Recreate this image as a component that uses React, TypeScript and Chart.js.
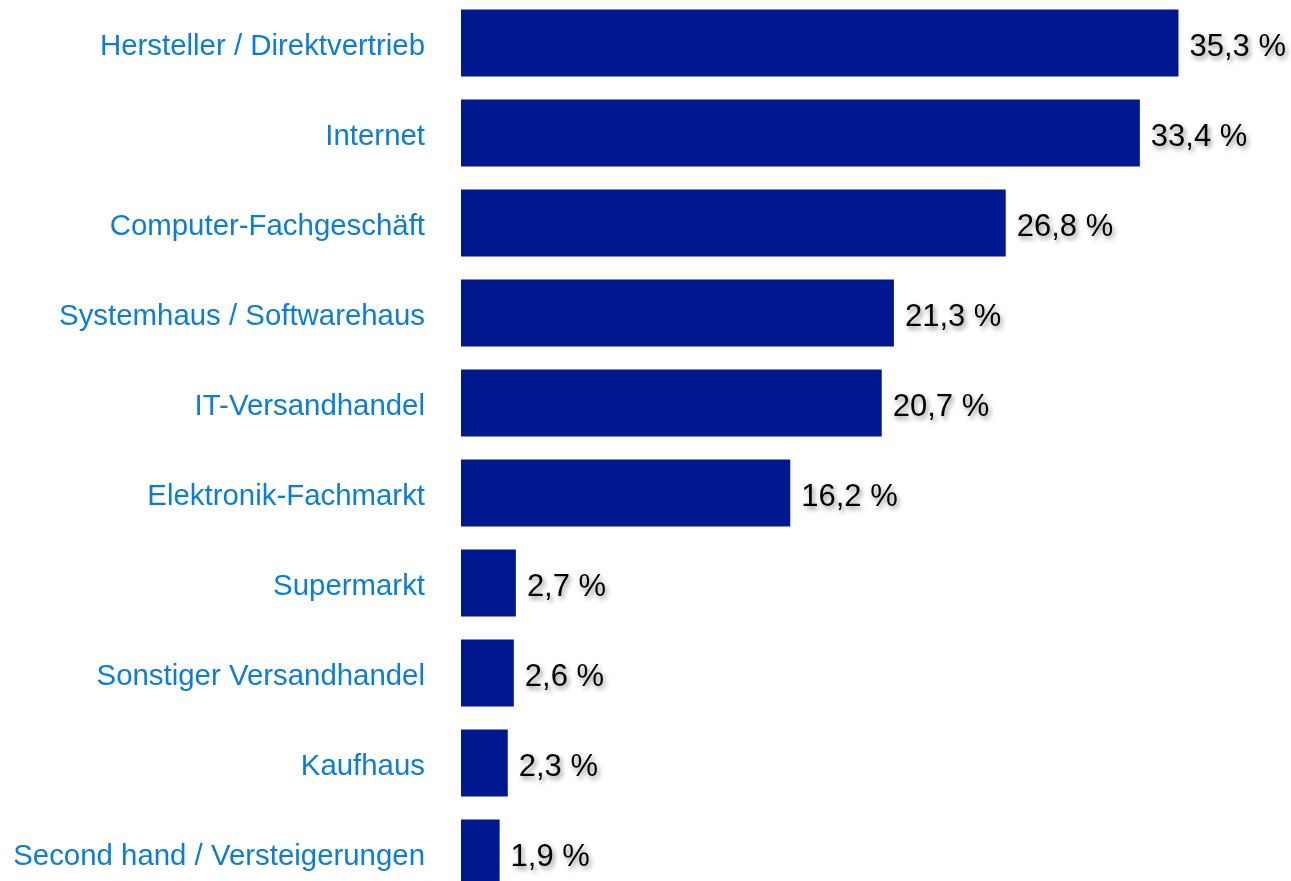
import React, { useEffect, useRef } from "react";
import { Chart, registerables } from "chart.js";

Chart.register(...registerables);

const categories = [
  "Hersteller / Direktvertrieb",
  "Internet",
  "Computer-Fachgeschäft",
  "Systemhaus / Softwarehaus",
  "IT-Versandhandel",
  "Elektronik-Fachmarkt",
  "Supermarkt",
  "Sonstiger Versandhandel",
  "Kaufhaus",
  "Second hand / Versteigerungen",
];
const values = [35.3, 33.4, 26.8, 21.3, 20.7, 16.2, 2.7, 2.6, 2.3, 1.9];
const valueLabels = ["35,3 %", "33,4 %", "26,8 %", "21,3 %", "20,7 %", "16,2 %", "2,7 %", "2,6 %", "2,3 %", "1,9 %"];

const FONT = "'Liberation Sans', Arial, sans-serif";

const valueLabelPlugin = {
  id: "valueLabels",
  afterDatasetsDraw(chart: any) {
    const ctx = chart.ctx;
    const meta = chart.getDatasetMeta(0);
    ctx.save();
    ctx.font = `31px ${FONT}`;
    ctx.fillStyle = "#000000";
    ctx.textAlign = "left";
    ctx.textBaseline = "middle";
    ctx.shadowColor = "rgba(0,0,0,0.45)";
    ctx.shadowBlur = 5;
    ctx.shadowOffsetX = 2;
    ctx.shadowOffsetY = 3;
    meta.data.forEach((bar: any, i: number) => {
      ctx.fillText(valueLabels[i], bar.x + 11, bar.y + 4);
    });
    ctx.restore();
  },
};

export default function App() {
  const ref = useRef<HTMLCanvasElement | null>(null);
  useEffect(() => {
    if (!ref.current) return;
    const chart = new Chart(ref.current, {
      type: "bar",
      data: {
        labels: categories,
        datasets: [
          {
            data: values,
            backgroundColor: "#00188F",
            borderWidth: 0,
            categoryPercentage: 0.745,
            barPercentage: 1,
          },
        ],
      },
      options: {
        indexAxis: "y",
        animation: false,
        responsive: false,
        maintainAspectRatio: false,
        layout: { padding: { top: 0, bottom: 0, left: 0, right: 17 } },
        plugins: {
          legend: { display: false },
          tooltip: { enabled: false },
        },
        scales: {
          x: {
            display: false,
            min: 0,
            max: 40,
          },
          y: {
            grid: { display: false, drawTicks: false },
            border: { display: false },
            ticks: {
              color: "#0A7ED6",
              font: { family: FONT, size: 29.4 },
              padding: 36,
              labelOffset: 4,
            },
            afterFit(scale: any) {
              scale.width = 461;
              scale.paddingTop = 0;
              scale.paddingBottom = 0;
            },
          },
        },
      },
      plugins: [valueLabelPlugin],
    });
    return () => chart.destroy();
  }, []);
  return (
    <div style={{ position: "absolute", left: 0, top: -2, width: 1291, height: 900 }}>
      <canvas ref={ref} width={1291} height={900} style={{ display: "block" }} />
    </div>
  );
}
